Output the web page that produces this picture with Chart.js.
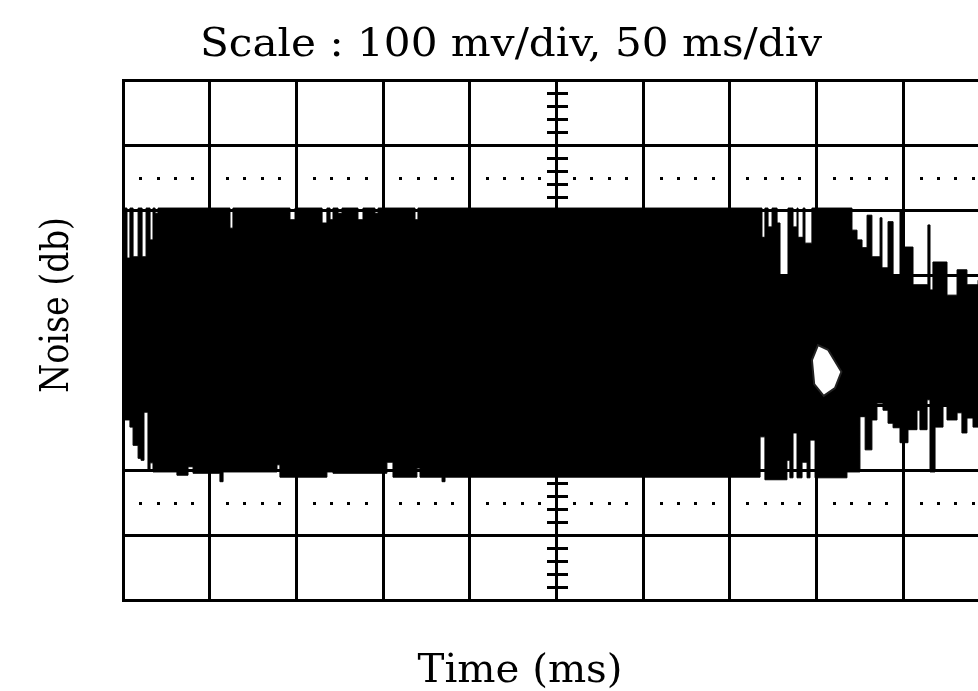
<!DOCTYPE html>
<html>
<head>
<meta charset="utf-8">
<title>Noise trace</title>
<script src="https://cdn.jsdelivr.net/npm/chart.js@4.4.1/dist/chart.umd.min.js"></script>
<style>
    html, body { margin: 0; padding: 0; background: #fff; overflow: hidden; }
    #scope { display: block; }
</style>
</head>
<body>
<canvas id="scope" width="1030" height="691"></canvas>
<script>
// trace envelope: time in ms (50 ms/div), level in mV (100 mV/div)
var upperTime = [0, 2.3, 4.0, 5.8, 8.7, 11.0, 13.3, 15.6, 17.3, 18.5, 20.2, 61.7, 63.4, 96.3, 99.2,
    114.8, 117.6, 119.4, 121.1, 124.0, 126.3, 135.5, 138.4, 145.3, 147.1, 168.4, 170.1, 368.5, 370.2,
    372.0, 374.3, 377.2, 378.9, 383.5, 386.4, 388.7, 389.3, 392.2, 393.3, 397.3, 420.4, 423.3, 426.2,
    429.1, 431.9, 436.6, 437.7, 441.2, 444.1, 448.1, 450.6, 455.6, 464.2, 465.4, 467.1, 475.2, 481.0,
    486.7, 493.1, 500];
var upperLevel = [203, 126, 203, 128, 203, 128, 203, 154, 203, 195, 203, 172, 203, 185, 203,
    180, 203, 185, 203, 195, 203, 185, 203, 195, 203, 185, 203, 158, 203,
    174, 203, 180, 100, 203, 174, 203, 158, 203, 149, 203, 169, 154, 142,
    192, 128, 188, 111, 182, 100, 197, 143, 85, 177, 77, 120, 69, 108,
    85, 92, 92];

var lowerTime = [0, 4.0, 5.8, 8.7, 10.4, 12.1, 14.4, 15.6, 17.3, 31.1, 37.5, 40.4, 55.9, 57.7, 88.8,
    90.5, 117.6, 121.1, 152.2, 155.7, 169.5, 171.3, 184.0, 185.7, 367.4, 370.2, 382.9, 384.6, 386.4,
    388.7, 391.6, 394.5, 396.2, 399.1, 417.5, 425.0, 428.0, 431.9, 434.8, 438.3, 441.2, 444.1, 448.1,
    452.7, 457.9, 459.6, 463.7, 465.4, 468.3, 472.9, 475.2, 481.0, 483.8, 486.7, 490.2, 500];
var lowerLevel = [-123, -134, -162, -182, -185, -111, -200, -189, -203, -208, -195, -205, -218, -203, -192,
    -211, -203, -205, -188, -211, -197, -211, -218, -211, -149, -215, -185, -212, -143,
    -212, -188, -212, -154, -212, -203, -118, -169, -123, -97, -108, -128, -135, -158,
    -138, -108, -138, -92, -203, -134, -100, -123, -112, -143, -120, -134, -134];

// small dropout loop inside the trace
var loopTime = [397.3, 400.8, 406.6, 414.3, 410.6, 404.1, 398.6, 397.3];
var loopLevel = [-31, -8, -15, -49, -74, -86, -68, -31];

var titleText = "Scale : 100 mv/div, 50 ms/div";
var xTitle = "Time (ms)";
var yTitle = "Noise (db)";

function points(xs, ys) {
    return xs.map(function (t, i) { return { x: t, y: ys[i] }; });
}

// draws text at a given size, squeezed or widened to a given length
function stretchText(ctx, text, x, y, size, length, angle) {
    ctx.save();
    ctx.translate(x, y);
    ctx.rotate(angle || 0);
    ctx.font = size + 'px "DejaVu Serif"';
    var w = ctx.measureText(text).width;
    ctx.scale(length / w, 1);
    ctx.textAlign = 'center';
    ctx.textBaseline = 'alphabetic';
    ctx.fillStyle = '#000';
    ctx.fillText(text, 0, 0);
    ctx.restore();
}

// dotted rows and the ticked centre line of the graticule
var graticule = {
    id: 'graticule',
    beforeDatasetsDraw: function (chart) {
        var ctx = chart.ctx, xs = chart.scales.x, ys = chart.scales.y;
        ctx.save();
        ctx.fillStyle = '#000';
        [250, -250].forEach(function (mv) {
            var py = Math.round(ys.getPixelForValue(mv));
            for (var t = 10; t < 500; t += 10) {
                if (t % 50 === 0) continue;
                ctx.fillRect(Math.round(xs.getPixelForValue(t)) - 1, py - 1, 3, 3);
            }
        });
        var cx = Math.round(xs.getPixelForValue(250));
        for (var v = -380; v < 400; v += 20) {
            if (v % 100 === 0) continue;
            ctx.fillRect(cx - 10, Math.round(ys.getPixelForValue(v)) - 1, 21, 3);
        }
        ctx.restore();
    }
};

var labels = {
    id: 'labels',
    afterDraw: function (chart) {
        var ctx = chart.ctx, a = chart.chartArea;
        stretchText(ctx, titleText, a.left + 388, a.top - 24, 40, 622);
        stretchText(ctx, xTitle, a.left + 397, a.bottom + 82, 40, 205);
        stretchText(ctx, yTitle, a.left - 55, a.top + 225, 40, 176, -Math.PI / 2);
    }
};

// each level holds until the next time stamp
var band = {
    borderColor: '#000',
    backgroundColor: '#000',
    borderWidth: 1,
    pointRadius: 0,
    stepped: 'before',
    fill: 'origin',
    order: 1
};

new Chart(document.getElementById('scope').getContext('2d'), {
    type: 'line',
    data: {
        datasets: [
            Object.assign({ label: 'upper', data: points(upperTime, upperLevel) }, band),
            Object.assign({ label: 'lower', data: points(lowerTime, lowerLevel) }, band),
            {
                label: 'dropout',
                data: points(loopTime, loopLevel),
                borderColor: '#222',
                backgroundColor: '#fff',
                borderWidth: 2,
                pointRadius: 0,
                fill: 'shape',
                order: 0
            }
        ]
    },
    options: {
        responsive: false,
        animation: false,
        devicePixelRatio: 1,
        layout: { padding: { left: 123, top: 80, right: 40, bottom: 91 } },
        plugins: {
            legend: { display: false },
            tooltip: { enabled: false },
            title: { display: false }
        },
        scales: {
            x: {
                type: 'linear',
                min: 0,
                max: 500,
                ticks: { display: false, stepSize: 50 },
                grid: { color: '#000', lineWidth: 3, drawTicks: false },
                border: { color: '#000', width: 3 },
                afterFit: function (s) { s.height = 0; }
            },
            y: {
                min: -400,
                max: 400,
                ticks: { display: false, stepSize: 100 },
                grid: { color: '#000', lineWidth: 3, drawTicks: false },
                border: { color: '#000', width: 3 },
                afterFit: function (s) { s.width = 0; }
            }
        }
    },
    plugins: [graticule, labels]
});
</script>
</body>
</html>
